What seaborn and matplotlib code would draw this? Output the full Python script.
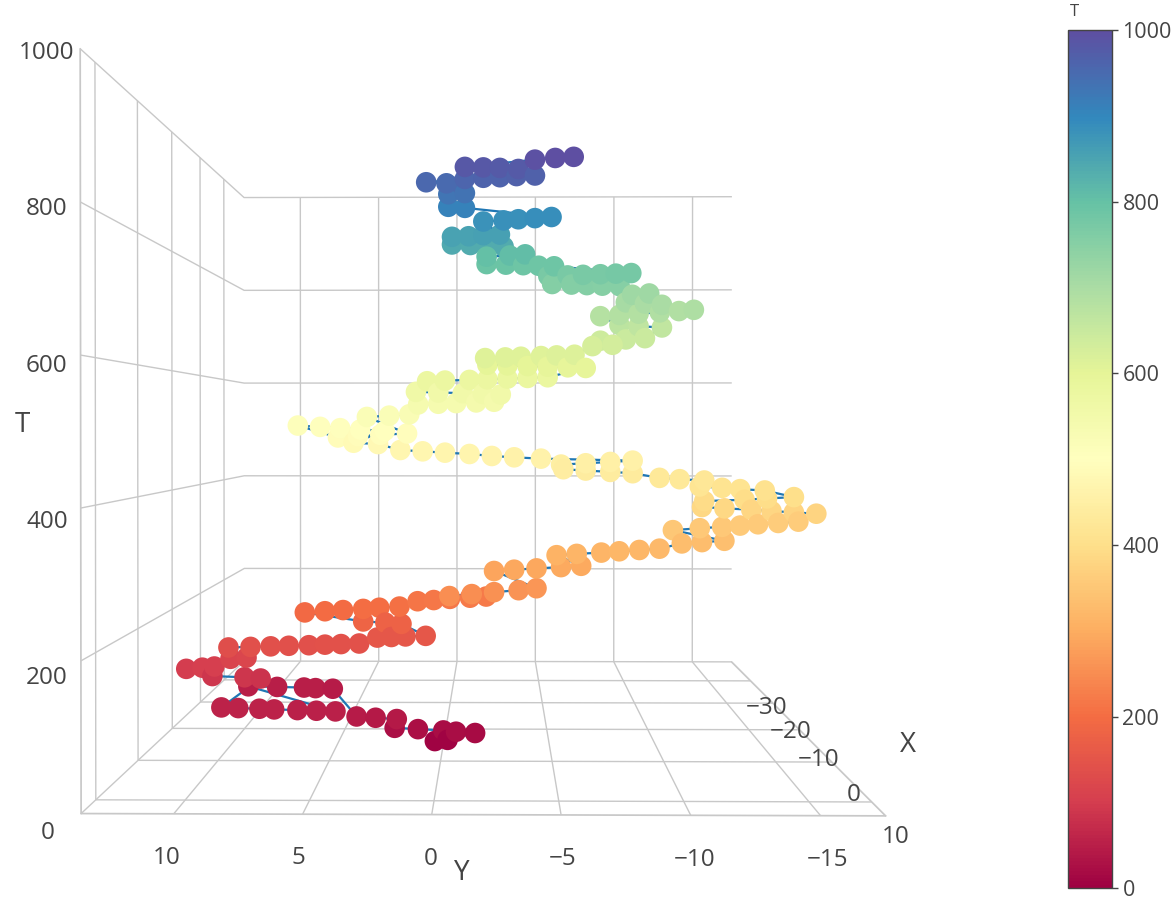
import matplotlib
matplotlib.use("Agg")
import matplotlib.pyplot as plt
import seaborn as sns

sns.set_theme(style="white")
plt.rcParams["font.family"] = ["Open Sans", "DejaVu Sans"]

# trajectory values (X depth, Y across, T up)
x_vals = [-5, -5, -5, -5, -5, -5, -5, -5, -5, -5,
          -15, -15, -15, -15, -15,
          -5, -5, -5, -5, -5, -5, -5,
          -10, -10, -10, -10, -10, -10, -10, -10,
          -10, -10, -10, -10, -10, -10, -10, -10,
          -10, -10, -10, -10,
          -10, -10, -10,
          -10, -10, -10, -10, -10, -10,
          -10, -10, -10, -10, -10,
          0, 0, 0, 0, 0,
          0, 0, 0, 0, 0,
          0, 0, 0, 0, 0, 0,
          0, 0, 0,
          0, 0, 0, 0, 0, 0, 0,
          0, 0, 0, 0, 0, 0,
          0, 0, 0, 0,
          0, 0, 0, 0,
          0, 0, 0,
          0, 0, 0, 0,
          0, 0, 0, 0,
          0, 0, 0,
          0, 0, 0, 0,
          0, 0,
          0, 0, 0, 0, 0,
          0, 0, 0, 0,
          0, 0, 0,
          0, 0, 0, 0, 0,
          0, 0, 0, 0, 0,
          0, 0, 0, 0, 0, 0, 0,
          0, 0, 0, 0, 0, 0,
          0, 0, 0, 0, 0, 0,
          0, 0,
          -5, -5, -5,
          -5, -5, -5,
          -5, -5, -5, -5, -5, -5,
          -5, -5, -5,
          -5, -5,
          -15, -15, -15, -15, -15,
          -15, -15, -15, -15, -15, -15,
          -15, -15, -15, -15, -15,
          -15, -15, -15,
          -20, -20, -20, -20,
          -20, -20, -20, -20,
          -20, -20, -20, -20, -20,
          -20, -20, -20, -20,
          -20, -20, -20,
          -20, -20, -20, -20, -20,
          -20, -20, -20, -20,
          -20, -20, -20]

y_vals = [0.4, -0.2, -1.5, -0.6, 0.0, 1.2, 2.3, 2.2, 3.2, 4.1,
          6.0, 6.9, 7.5, 8.9, 10.4,
          5.1, 6.0, 6.9, 8.0, 8.7, 9.7, 10.5,
          9.2, 10.0, 11.6, 12.9, 12.1, 11.5, 10.7, 9.9,
          10.8, 9.7, 8.7, 7.8, 6.8, 6.0, 5.2, 4.3,
          3.4, 2.7, 2.0, 1.0,
          2.2, 3.0, 4.1,
          7.0, 6.0, 5.1, 4.1, 3.3, 2.3,
          1.4, 0.6, -0.2, -1.2, -2.0,
          -0.4, -1.4, -2.4, -3.5, -4.3,
          -2.4, -3.3, -4.3, -5.4, -6.3,
          -5.2, -6.1, -7.2, -8.0, -8.9, -9.8,
          -10.8, -11.7, -12.7,
          -10.4, -11.6, -12.6, -13.4, -14.2, -15.1, -16.0,
          -16.8, -15.8, -14.8, -13.9, -12.7, -11.7,
          -11.8, -13.6, -14.6, -15.8,
          -14.5, -13.4, -12.6, -11.6,
          -11.8, -10.7, -9.8,
          -8.6, -7.6, -6.5, -5.5,
          -5.4, -6.5, -7.6, -8.6,
          -4.5, -3.3, -2.3,
          -1.3, -0.2, 0.8, 1.8,
          2.8, 3.9,
          2.5, 3.6, 4.5, 5.4, 6.4,
          4.6, 3.7, 2.7, 1.5,
          3.3, 2.3, 1.4,
          1.0, 0.1, -0.7, -1.6, -2.4,
          -2.7, -1.9, -1.0, 0.1, 1.1,
          0.6, -0.2, -1.3, -2.1, -3.0, -3.9, -4.8,
          -6.5, -5.7, -4.8, -3.9, -3.0, -2.1,
          -2.0, -2.9, -3.6, -4.5, -5.2, -6.0,
          -6.8, -7.7,
          -7.4, -8.6, -9.5,
          -10.3, -9.2, -8.3,
          -7.4, -8.3, -9.2, -10.2, -11.1, -11.8,
          -10.3, -9.5, -8.6,
          -8.9, -9.7,
          -8.9, -8.0, -7.2, -6.4, -5.4,
          -5.2, -6.2, -7.0, -7.9, -8.7, -9.5,
          -5.5, -4.7, -3.9, -3.0, -2.0,
          -2.0, -3.2, -4.0,
          -2.9, -2.0, -1.1, -0.1,
          -0.1, -1.0, -1.8, -2.7,
          -1.8, -2.9, -3.7, -4.6, -5.5,
          -0.8, 0.1, 0.1, -0.8,
          -0.6, 0.2, 1.3,
          -0.8, -1.8, -2.7, -3.6, -4.6,
          -3.7, -2.7, -1.8, -0.8,
          -4.6, -5.7, -6.7]

t_vals = [5, 7, 18, 20, 22, 24, 26, 40, 42, 44,
          46, 47, 48, 49, 50,
          52, 53, 54, 55, 56, 57, 58,
          84, 86, 88, 100, 102, 104, 117, 119,
          136, 137, 138, 139, 140, 141, 142, 143,
          153, 154, 155, 156,
          176, 178, 180,
          195, 197, 199, 201, 203, 205,
          214, 216, 218, 220, 222,
          250, 253, 256, 259, 262,
          288, 290, 292, 294, 296,
          312, 314, 316, 318, 320, 322,
          330, 332, 334,
          350, 353, 355, 357, 359, 361, 363,
          375, 377, 379, 381, 383, 385,
          394, 396, 398, 400,
          410, 412, 414, 416,
          425, 427, 429,
          436, 438, 440, 442,
          449, 451, 453, 455,
          458, 460, 462,
          465, 467, 469, 471,
          480, 482,
          500, 502, 504, 506, 508,
          490, 492, 494, 496,
          521, 523, 525,
          540, 541, 542, 543, 544,
          555, 556, 557, 558, 559,
          575, 576, 577, 578, 579, 580, 581,
          595, 596, 597, 598, 599, 600,
          610, 611, 612, 613, 614, 615,
          628, 630,
          643, 645, 647,
          664, 666, 668,
          682, 684, 686, 688, 690, 692,
          700, 702, 704,
          716, 718,
          752, 753, 754, 755, 756,
          770, 771, 772, 773, 774, 775,
          787, 788, 789, 790, 791,
          804, 806, 808,
          836, 837, 839, 840,
          854, 855, 857, 858,
          882, 884, 886, 888, 890,
          907, 909, 932, 934,
          950, 952, 954,
          960, 962, 963, 965, 966,
          978, 980, 981, 982,
          995, 998, 1000]

x_ticks = [-30, -20, -10, 0, 10]
y_ticks = [10, 5, 0, -5, -10, -15]
t_ticks = [0, 200, 400, 600, 800, 1000]

text_col = "#444444"
grid_col = "#c8c8c8"
cmap = sns.color_palette("Spectral", as_cmap=True)

fig = plt.figure(figsize=(11.73, 9.10), dpi=100)
ax = fig.add_axes([-0.068, -0.031, 0.941, 1.087], projection="3d")
ax.set_proj_type("persp", focal_length=0.22)
ax.view_init(elev=0.2, azim=0.5)
ax.computed_zorder = False

# blue connecting line under the markers
ax.plot(x_vals, y_vals, t_vals, color="#1f77b4", lw=1.6, zorder=1)
sc = ax.scatter(x_vals, y_vals, t_vals, c=t_vals, cmap=cmap, vmin=0, vmax=1000,
                s=220, depthshade=False, edgecolors="none", zorder=2)

ax.set_xlim(-40, 13)
ax.set_ylim(13.6, -17.5)
ax.set_zlim(0, 1000)
ax.set_xticks(x_ticks)
ax.set_yticks(y_ticks)
ax.set_zticks(t_ticks)
ax.set_box_aspect((1, 1.05, 1))

for axis in (ax.xaxis, ax.yaxis, ax.zaxis):
    axis.set_pane_color((1, 1, 1, 0))
    axis.pane.set_edgecolor(grid_col)
    axis._axinfo["grid"].update(color=grid_col, linewidth=1.0)
    axis._axinfo["tick"]["inward_factor"] = 0
    axis._axinfo["tick"]["outward_factor"] = 0
    axis.line.set_color(grid_col)

ax.tick_params(labelsize=17.5, colors=text_col)

# axis titles placed where the reference shows them
fig.text(908 / 1173, 1 - 745 / 910, "X", fontsize=20, color=text_col, ha="center", va="center")
fig.text(462 / 1173, 1 - 873 / 910, "Y", fontsize=20, color=text_col, ha="center", va="center")
fig.text(22 / 1173, 1 - 425 / 910, "T", fontsize=20, color=text_col, ha="center", va="center")

# colorbar on the right
cax = fig.add_axes([0.9105, 0.024, 0.0375, 0.943])
cb = fig.colorbar(sc, cax=cax)
cb.set_ticks(t_ticks)
cb.outline.set_edgecolor(text_col)
cb.outline.set_linewidth(1)
cax.tick_params(labelsize=15.5, colors=text_col, length=4, width=1, direction="out")
fig.text(0.912, 0.978, "T", fontsize=12, color=text_col, ha="left", va="bottom")

fig.savefig("out.png", dpi=100)
